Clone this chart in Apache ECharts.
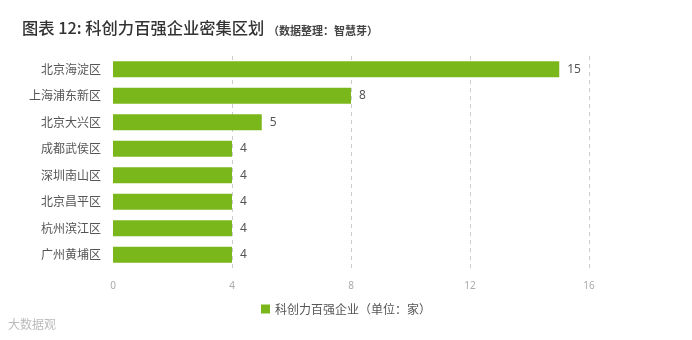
<!DOCTYPE html>
<html><head><meta charset="utf-8">
<script src="https://cdn.jsdelivr.net/npm/echarts@6/dist/echarts.min.js"></script>
<style>html,body{margin:0;padding:0;background:#fff}#c{width:692px;height:340px}</style>
</head><body><div id="c"></div>
<script>
const categories = ['北京海淀区','上海浦东新区','北京大兴区','成都武侯区','深圳南山区','北京昌平区','杭州滨江区','广州黄埔区'];
const values = [15, 8, 5, 4, 4, 4, 4, 4];
const xTicks = [0, 4, 8, 12, 16];
const seriesName = '科创力百强企业（单位：家）';
const titleText = '图表 12: 科创力百强企业密集区划';
const subText = '（数据整理：智慧芽）';
const chart = echarts.init(document.getElementById('c'));
chart.setOption({
  animation: false,
  graphic: [
    {type:'text', left: 22, top: 20, style:{text: titleText, fill:'#333', font:'500 16.3px "Noto Sans CJK SC"'}},
    {type:'text', left: 268, top: 25, style:{text: subText, fill:'#444', font:'bold 11px "Noto Sans CJK SC"'}},
    {type:'text', left: 8, top: 318, style:{text:'大数据观', fill:'#bbb', font:'12px "Noto Sans CJK SC"'}}
  ],
  legend: {
    data: [seriesName], top: 298, left: 'center',
    itemWidth: 9, itemHeight: 9, itemGap: 4, icon: 'rect',
    textStyle: {fontSize: 12, color: '#555', fontFamily: 'Noto Sans CJK SC'}
  },
  grid: {left: 113, right: 103, top: 56, bottom: 72, containLabel: false},
  xAxis: {
    type: 'value', min: xTicks[0], max: xTicks[xTicks.length-1], interval: 4,
    axisLine: {show: false}, axisTick: {show: false},
    axisLabel: {color: '#aaa', fontSize: 10, margin: 13, fontFamily: 'Noto Sans'},
    splitLine: {show: true, lineStyle: {color: '#ccc', type: [4, 4], width: 1}}
  },
  yAxis: {
    type: 'category', data: categories, inverse: true,
    axisLine: {show: true, lineStyle: {color: '#fff', width: 2}}, axisTick: {show: false},
    axisLabel: {color: '#555', fontSize: 12, margin: 12, fontFamily: 'Noto Sans CJK SC'}
  },
  series: [{
    name: seriesName, type: 'bar', data: values, barWidth: '60%',
    itemStyle: {color: '#7ab71b'},
    z: 3,
    label: {show: true, position: 'right', distance: 8, color: '#555', fontSize: 12, fontFamily: 'Noto Sans'}
  }]
});
</script></body></html>
